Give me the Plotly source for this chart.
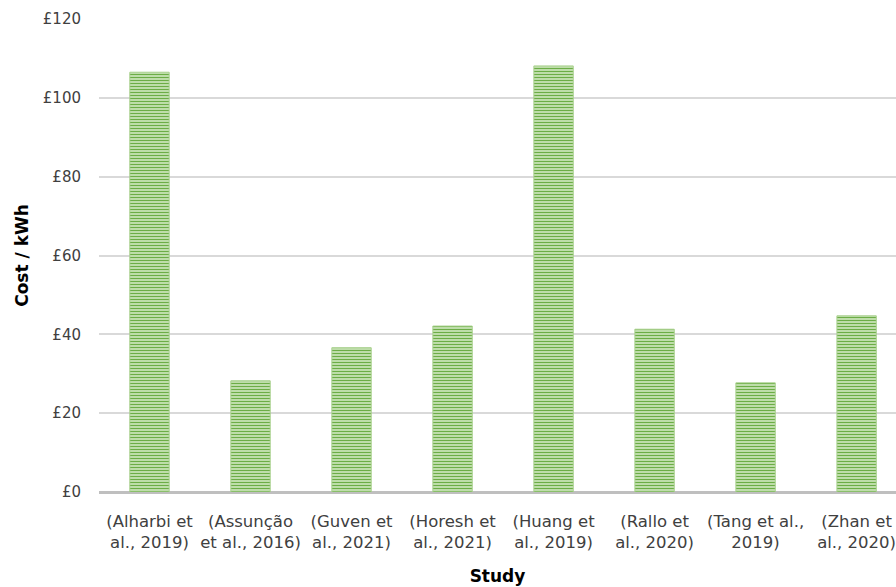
import plotly.graph_objects as go

studies = [
    "(Alharbi et<br>al., 2019)",
    "(Assunção<br>et al., 2016)",
    "(Guven et<br>al., 2021)",
    "(Horesh et<br>al., 2021)",
    "(Huang et<br>al., 2019)",
    "(Rallo et<br>al., 2020)",
    "(Tang et al.,<br>2019)",
    "(Zhan et<br>al., 2020)",
]
cost_per_kwh = [106.5, 28.2, 36.6, 42.1, 108.1, 41.3, 27.7, 44.7]
y_ticks = [0, 20, 40, 60, 80, 100, 120]
y_tick_text = ["£0", "£20", "£40", "£60", "£80", "£100", "£120"]

FONT = "DejaVu Sans"

fig = go.Figure(
    go.Bar(
        x=list(range(len(studies))),
        y=cost_per_kwh,
        width=0.39,
        marker=dict(
            color="#c5e0b4",
            line=dict(color="#a9d18e", width=1),
            pattern=dict(shape="-", fgcolor="#6cad46", bgcolor="#cfe8bf",
                         size=3, solidity=0.45, fillmode="replace"),
        ),
        hoverinfo="skip",
    )
)

fig.update_layout(
    width=896,
    height=587,
    margin=dict(l=99, r=0, t=19, b=95),
    plot_bgcolor="white",
    paper_bgcolor="white",
    font=dict(family=FONT, size=15, color="#404040"),
    showlegend=False,
)

fig.update_xaxes(
    tickmode="array",
    tickvals=list(range(len(studies))),
    ticktext=studies,
    range=[-0.5, 7.39],
    showgrid=False,
    showline=False,
    zeroline=False,
    ticks="",
    ticklabelstandoff=17,
    ticklabeloverflow="allow",
    tickfont=dict(family=FONT, size=16.5, color="#404040"),
    title=dict(text="<b>Study</b>", font=dict(family=FONT, size=17, color="#000000"), standoff=19),
)

fig.update_yaxes(
    range=[0, 120],
    tickmode="array",
    tickvals=y_ticks,
    ticktext=y_tick_text,
    showgrid=True,
    gridcolor="#d9d9d9",
    gridwidth=1.5,
    zeroline=True,
    zerolinecolor="#bfbfbf",
    zerolinewidth=2.5,
    showline=False,
    ticks="",
    ticklabelstandoff=17,
    tickfont=dict(family=FONT, size=15, color="#404040"),
    title=dict(text="<b>Cost / kWh</b>", font=dict(family=FONT, size=17, color="#000000"), standoff=9),
)

fig.write_html("out.html")
